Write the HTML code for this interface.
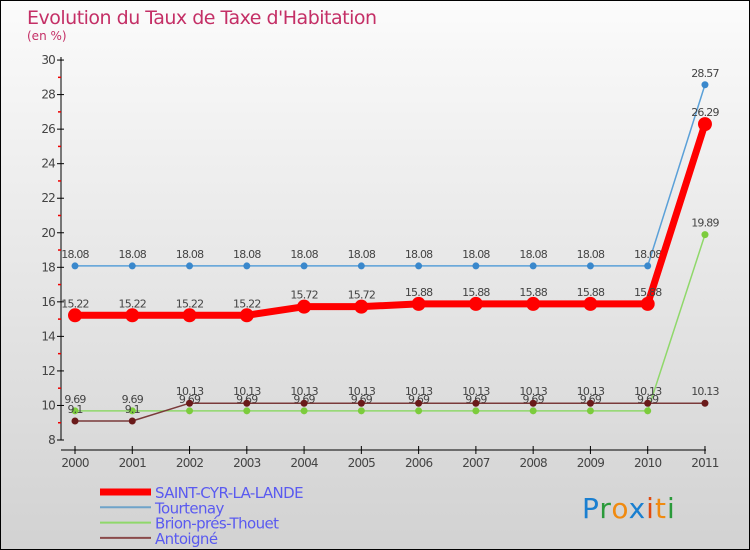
<!DOCTYPE html>
<html><head><meta charset="utf-8"><style>
body{margin:0}
#c{width:750px;height:550px;position:relative;box-sizing:border-box;border:1px solid #000;background:linear-gradient(#fbfbfb,#d2d2d2);font-family:"DejaVu Sans","Liberation Sans",sans-serif;overflow:hidden}
</style></head><body>
<div id="c">
<svg id="s" width="750" height="550" style="position:absolute;left:-1px;top:-1px"></svg>
</div>
<script>
const years=["2000","2001","2002","2003","2004","2005","2006","2007","2008","2009","2010","2011"];
const saint=[15.22,15.22,15.22,15.22,15.72,15.72,15.88,15.88,15.88,15.88,15.88,26.29];
const tourtenay=[18.08,18.08,18.08,18.08,18.08,18.08,18.08,18.08,18.08,18.08,18.08,28.57];
const brion=[9.69,9.69,9.69,9.69,9.69,9.69,9.69,9.69,9.69,9.69,9.69,19.89];
const antoigne=[9.1,9.1,10.13,10.13,10.13,10.13,10.13,10.13,10.13,10.13,10.13,10.13];
const yTicks=[8,10,12,14,16,18,20,22,24,26,28,30];
const NS="http://www.w3.org/2000/svg",s=document.getElementById('s');
const X=i=>75+i*57.27, Y=v=>440-(v-8)*17.27;
function el(t,a,n,p){const e=document.createElementNS(NS,t);for(const k in a)e.setAttribute(k,a[k]);(p||s).appendChild(e);return e}
function tx(x,y,str,o,n){const e=el('text',Object.assign({x,y,'font-size':11,fill:'#444','letter-spacing':'-0.8'},o),n);e.textContent=str;return e}
tx(27,24,"Evolution du Taux de Taxe d'Habitation",{'font-size':19,fill:'#c42f66','letter-spacing':'-0.5'},'chart-title');
tx(27,40,"(en %)",{'font-size':12,fill:'#c42f66','letter-spacing':'0'},'chart-subtitle');
el('line',{x1:61,y1:57,x2:61,y2:440,stroke:'#000'},'y-axis-line');
yTicks.forEach(v=>{el('line',{x1:57,y1:Y(v),x2:64,y2:Y(v),stroke:'#000'},'y-tick');
 if(v<30)el('line',{x1:58,y1:Y(v+1),x2:61,y2:Y(v+1),stroke:'#e00','stroke-width':1.5},'y-minor-tick');
 tx(55,Y(v)+4,String(v),{'text-anchor':'end','font-size':12},'y-tick-label');});
el('line',{x1:61,y1:450,x2:706,y2:450,stroke:'#000'},'x-axis-line');
years.forEach((y,i)=>{el('line',{x1:X(i),y1:446,x2:X(i),y2:454,stroke:'#000'},'x-tick');
 tx(X(i),467,y,{'text-anchor':'middle','font-size':12},'x-tick-label');});
function series(d,col,w,r,dot,name){
 el('polyline',{points:d.map((v,i)=>X(i)+','+Y(v)).join(' '),fill:'none',stroke:col,'stroke-width':w,'stroke-linejoin':'round'},name+'-line');
 d.forEach((v,i)=>{el('circle',{cx:X(i),cy:Y(v),r,fill:dot},name+'-point');
  tx(X(i),Y(v)-8,String(v),{'text-anchor':'middle'},name+'-value');});
}
series(brion,'#8fd86a',1.5,3.5,'#7ccc3c','brion');
series(antoigne,'#7a3a3a',1.5,3.5,'#6a1a1a','antoigne');
series(tourtenay,'#5aa0d8',1.5,3.5,'#3a88cc','tourtenay');
series(saint,'#f00',7,7,'#f00','saint-cyr');
const leg=[["SAINT-CYR-LA-LANDE",'#f00',7],["Tourtenay",'#6fa3c9',2],["Brion-prés-Thouet",'#8fd86a',2],["Antoigné",'#8a4a4a',2]];
leg.forEach((l,i)=>{const y=492+i*15.3;
 el('line',{x1:100,y1:y,x2:151,y2:y,stroke:l[1],'stroke-width':l[2]},'legend-swatch');
 tx(155,y+6,l[0],{'font-size':15,fill:'#5a5af0','letter-spacing':'-0.6'},'legend-label');});
const logo=[["P",'#1a7fd0'],["r",'#2a9a3a'],["o",'#f08a10'],["x",'#1a7fd0'],["i",'#e04a10'],["t",'#f08a10'],["i",'#2a9a3a']];
const g=el('text',{x:582,y:518,'font-size':28,'font-family':'DejaVu Sans','letter-spacing':'1'},'proxiti-logo');
logo.forEach(c=>{const t=document.createElementNS(NS,'tspan');t.setAttribute('fill',c[1]);t.textContent=c[0];g.appendChild(t)});
</script>
</body></html>
